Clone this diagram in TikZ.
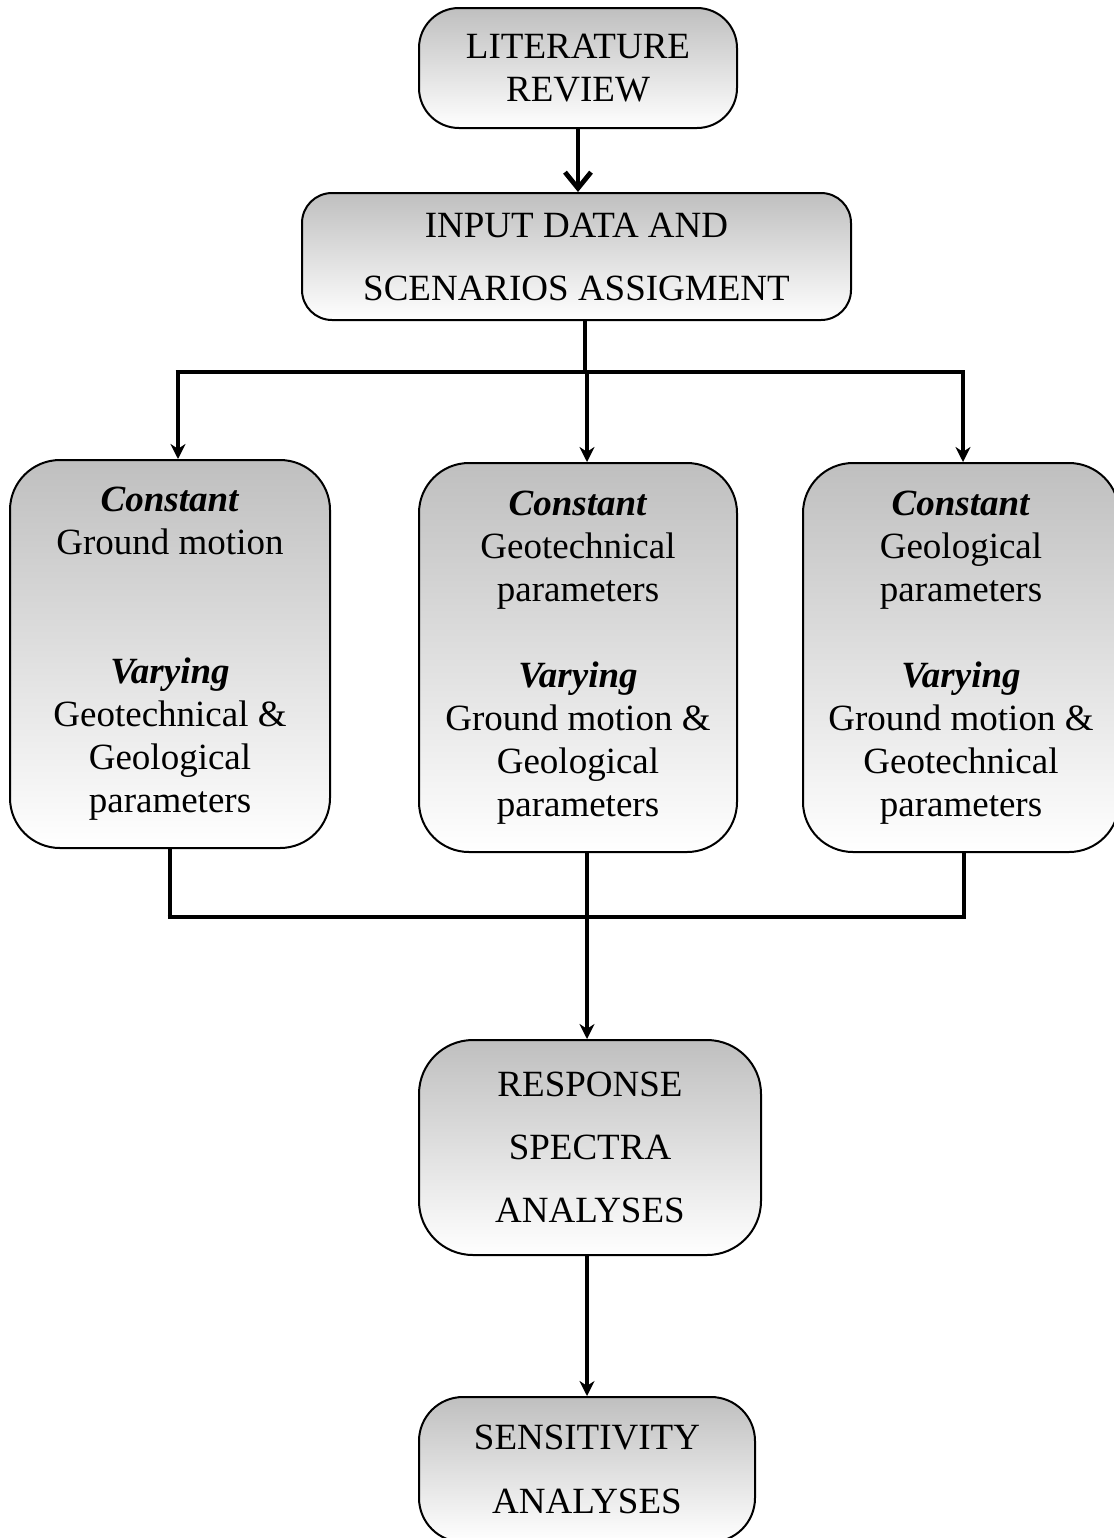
\documentclass[tikz,border=0pt]{standalone}
\usepackage{fontspec}
\setmainfont{Liberation Serif}
\usetikzlibrary{arrows.meta}
\begin{document}
\begin{tikzpicture}[x=0.5pt,y=-0.5pt,
  box/.style={draw,line width=1pt,rounded corners=#1,top color=gray!50,bottom color=white,
    align=center,inner sep=0pt,font=\fontsize{18.5}{21.5}\selectfont},
  wide/.style={font=\fontsize{18.5}{31.5}\selectfont},
  conn/.style={line width=2.4pt},
  arr/.style={conn,-{Stealth[length=7.5pt,width=7.5pt]}},
  barb/.style={conn,-{Straight Barb[length=8pt,width=13pt]}}]
\useasboundingbox (0,0) rectangle (1114,1538);
\clip (0,0) rectangle (1114,1538);

\node[box=20pt,minimum width=159pt,minimum height=60pt] (lit) at (578,68) {LITERATURE\\REVIEW};
\node[box=15pt,wide,minimum width=274.5pt,minimum height=63.5pt] (input) at (576.5,256.5) {INPUT DATA AND\\SCENARIOS ASSIGMENT};
\node[box=25pt,minimum width=160pt,minimum height=194pt] (left) at (170,654)
  {\textbf{\textit{Constant}}\\Ground motion\\~\\~\\\textbf{\textit{Varying}}\\Geotechnical \&\\Geological\\parameters};
\node[box=25pt,minimum width=159pt,minimum height=194.5pt] (mid) at (578,657.5)
  {\textbf{\textit{Constant}}\\Geotechnical\\parameters\\~\\\textbf{\textit{Varying}}\\Ground motion \&\\Geological\\parameters};
\node[box=25pt,minimum width=158pt,minimum height=194.5pt] (right) at (961,657.5)
  {\textbf{\textit{Constant}}\\Geological\\parameters\\~\\\textbf{\textit{Varying}}\\Ground motion \&\\Geotechnical\\parameters};
\node[box=27pt,wide,minimum width=171pt,minimum height=107.5pt] (resp) at (590,1147.5) {RESPONSE\\SPECTRA\\ANALYSES};
\node[box=22pt,font=\fontsize{18.5}{32}\selectfont,minimum width=168pt,minimum height=72.5pt] (sens) at (587,1469.5) {SENSITIVITY\\ANALYSES};

% top arrow
\draw[barb] (lit.south) -- (lit.south |- input.north);

% split
\coordinate (js) at (585,372);
\coordinate (jl) at (178,372);
\coordinate (jr) at (963,372);
\coordinate (jm) at (587,372);
\draw[conn] (input.south -| js) -- (js);
\draw[conn] ([xshift=-1.2pt]jl) -- ([xshift=1.2pt]jr);
\draw[arr] (jl) -- (jl |- left.north);
\draw[arr] (jm) -- (jm |- mid.north);
\draw[arr] (jr) -- (jr |- right.north);

% merge
\coordinate (ml) at (170,917);
\coordinate (mr) at (964,917);
\coordinate (mm) at (587,917);
\draw[conn] (ml |- left.south) -- (ml);
\draw[conn] (mr |- right.south) -- (mr);
\draw[conn] ([xshift=-1.2pt]ml) -- ([xshift=1.2pt]mr);
\draw[arr] (mm |- mid.south) -- (mm |- resp.north);

% bottom arrow
\draw[arr] (resp.south -| mm) -- (mm |- sens.north);
\end{tikzpicture}
\end{document}
